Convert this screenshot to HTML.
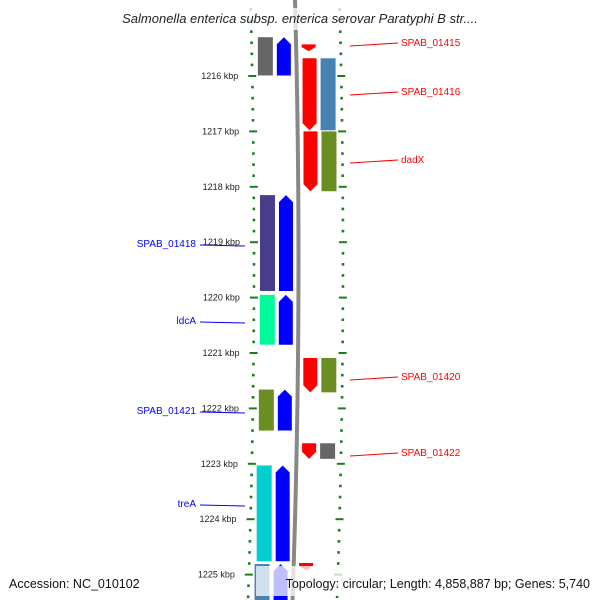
<!DOCTYPE html>
<html><head><meta charset="utf-8"><style>
html,body{margin:0;padding:0;background:#fff}
svg{display:block;font-family:"Liberation Sans","DejaVu Sans",sans-serif}
</style></head><body>
<svg id="map" width="600" height="600" viewBox="0 0 600 600">
<text x="300" y="23" text-anchor="middle" font-size="13" font-style="italic" fill="#222">Salmonella enterica subsp. enterica serovar Paratyphi B str....</text>
<g id="g"></g>
<rect x="256" y="566" width="340" height="30" fill="#fff" opacity="0.75"/>
<text x="9" y="588" font-size="12.5" fill="#111">Accession: NC_010102</text>
<text x="590" y="588" text-anchor="end" font-size="12.5" fill="#111">Topology: circular; Length: 4,858,887 bp; Genes: 5,740</text>
</svg>
<script>
const tickKbp=[1216,1217,1218,1219,1220,1221,1222,1223,1224,1225];
const revNames=["","SPAB_01418","ldcA","SPAB_01421","treA",""];
const revStart=[1215.30,1218.15,1219.95,1221.66,1223.03,1224.81];
const revEnd=[1215.99,1219.88,1220.85,1222.40,1224.76,1225.50];
const revOuterColor=["#666666","#483d8b","#00fa9a","#6b8e23","#00ced1","#4682b4"];
const fwdNames=["SPAB_01415","SPAB_01416","dadX","SPAB_01420","SPAB_01422",""];
const fwdStart=[1215.43,1215.68,1217.00,1221.09,1222.63,1224.79];
const fwdEnd=[1215.55,1216.98,1218.08,1221.71,1222.91,1224.92];
const fwdOuterColor=[null,"#4682b4","#6b8e23","#6b8e23","#666666",null];
const revLabelY=[0,243,320,410,503,0];
const fwdLabelY=[42,91,159,376,452,0];

const g=document.getElementById('g');
const NS='http://www.w3.org/2000/svg';
const y=k=>76+(k-1216)*55.4;
const dx=py=>-6*Math.pow((py-260)/340,2);
function mk(t,a,p){const e=document.createElementNS(NS,t);for(const k in a)e.setAttribute(k,a[k]);(p||g).appendChild(e);return e;}
// backbone
let d='';for(let py=0;py<=600;py+=20)d+=(py?'L':'M')+(298.5+dx(py))+' '+py;
const bb=mk('path',{d:d,stroke:'#888','stroke-width':4,fill:'none'});


// ticks
for(let k=1214.8;k<=1225.6;k+=0.2){
  const py=y(k);const major=Math.abs(k-Math.round(k))<0.01;
  [254,343].forEach(cx=>{const x=cx+dx(py);
    const t=mk('rect',major?{x:x-4,y:py-1,width:8,height:2,fill:'#1a7f1a'}:{x:x-1.3,y:py-1.3,width:2.6,height:2.6,fill:'#1a7f1a'});
    
    
  });
}
tickKbp.forEach(k=>{const py=y(k);
  const t=mk('text',{x:240+dx(py),y:py+3,'text-anchor':'end','font-size':9,fill:'#222'});
  t.textContent=k+' kbp';
  
  
});
// reverse-strand (left) features
revStart.forEach((s,i)=>{const y1=y(s),y2=y(revEnd[i]);const o=dx((y1+y2)/2);
  const r=mk('rect',{x:260+o,y:y1,width:15,height:y2-y1,fill:revOuterColor[i]});
  
  
  const h=Math.min(7,(y2-y1)/2);
  const p=mk('polygon',{points:`${279+o},${y1+h} ${286+o},${y1} ${293+o},${y1+h} ${293+o},${y2} ${279+o},${y2}`,fill:'#0000ff'});
  
  
  if(revNames[i]){const ly=revLabelY[i];
    const l=mk('line',{x1:200,y1:ly+2,x2:245,y2:ly+3,stroke:'#0000ff','stroke-width':1});
    
    
    const t=mk('text',{x:196,y:ly+4,'text-anchor':'end','font-size':10,fill:'#0000ff'});
    t.textContent=revNames[i];
    
    
  }
});
// forward-strand (right) features
fwdStart.forEach((s,i)=>{const y1=y(s),y2=y(fwdEnd[i]);const o=dx((y1+y2)/2);
  const h=Math.min(7,(y2-y1)*0.6);
  const p=mk('polygon',{points:`${304+o},${y1} ${318+o},${y1} ${318+o},${y2-h} ${311+o},${y2} ${304+o},${y2-h}`,fill:'#ff0000'});
  
  
  if(fwdOuterColor[i]){
    const r=mk('rect',{x:322+o,y:y1,width:15,height:y2-y1,fill:fwdOuterColor[i]});
    
    
  }
  if(fwdNames[i]){const ly=fwdLabelY[i];
    const l=mk('line',{x1:350,y1:ly+4,x2:398,y2:ly+1,stroke:'#ff0000','stroke-width':1});
    
    
    const t=mk('text',{x:401,y:ly+4,'font-size':10,fill:'#ff0000'});
    t.textContent=fwdNames[i];
    
    
  }
});
// faded title overlay band on top features
const band=mk('rect',{x:0,y:8,width:600,height:22,fill:'#fff',opacity:0.75});


g.parentNode.insertBefore(g,g.parentNode.children[0]);
</script>
</body></html>
